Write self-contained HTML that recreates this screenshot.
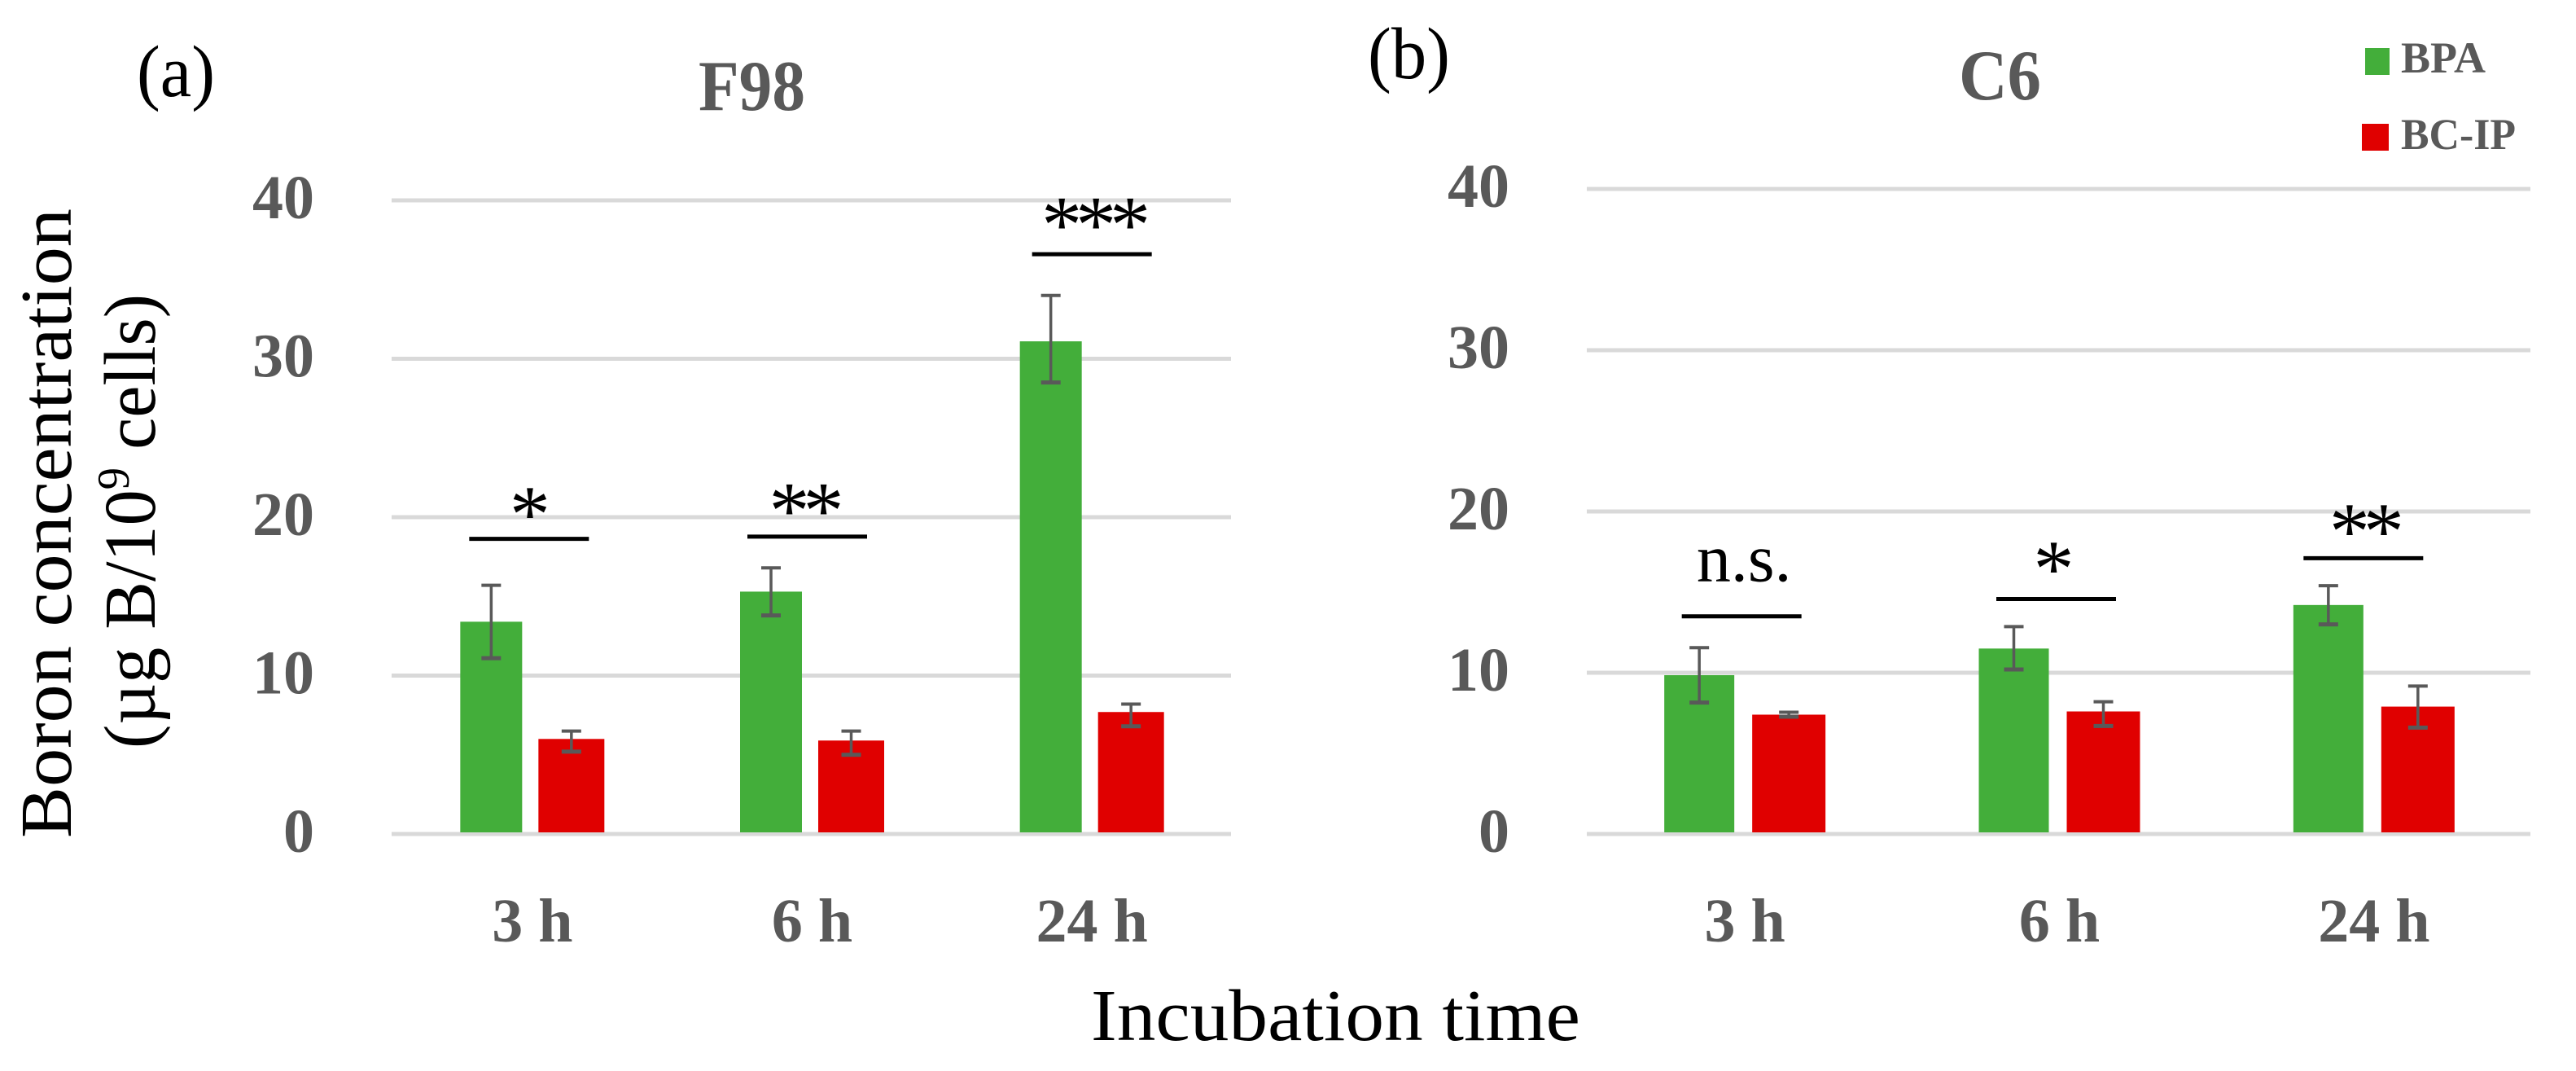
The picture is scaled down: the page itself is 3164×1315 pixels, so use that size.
<!DOCTYPE html>
<html lang="en">
<head>
<meta charset="utf-8">
<title>Boron concentration by incubation time</title>
<style>
html,body{margin:0;padding:0;background:#fff;}
svg{display:block;}
text{font-family:"Liberation Serif","DejaVu Serif",serif;}
.tick{font-weight:bold;fill:#595959;font-size:76px;}
.black{fill:#000;}
</style>
</head>
<body>
<svg id="figure" xmlns="http://www.w3.org/2000/svg" width="3164" height="1315" viewBox="0 0 3164 1315">
  <rect width="3164" height="1315" fill="#fff"/>
  <text class="black" x="168" y="118" font-size="90" textLength="96" lengthAdjust="spacingAndGlyphs">(a)</text>
  <text class="black" x="1680" y="96" font-size="90" textLength="101" lengthAdjust="spacingAndGlyphs">(b)</text>
  <text x="858" y="135" font-size="88" font-weight="bold" fill="#595959" textLength="131" lengthAdjust="spacingAndGlyphs">F98</text>
  <text x="2406" y="122" font-size="88" font-weight="bold" fill="#595959" textLength="101" lengthAdjust="spacingAndGlyphs">C6</text>
  <text class="black" transform="translate(87,1029) rotate(-90)" font-size="90" textLength="773" lengthAdjust="spacingAndGlyphs">Boron concentration</text>
  <text class="black" transform="translate(190,919) rotate(-90)" font-size="90" textLength="558" lengthAdjust="spacingAndGlyphs">(µg B/10<tspan font-size="56" dy="-32">9</tspan><tspan dy="32"> cells)</tspan></text>
  <text class="black" x="1340" y="1277" font-size="90" textLength="601" lengthAdjust="spacingAndGlyphs">Incubation time</text>
  <g>
    <rect x="2905" y="59" width="30" height="33" fill="#43AE3A"/>
    <text x="2949" y="89" font-size="54" font-weight="bold" fill="#595959" textLength="104" lengthAdjust="spacingAndGlyphs">BPA</text>
    <rect x="2901" y="152" width="33" height="33" fill="#E00000"/>
    <text x="2949" y="183" font-size="54" font-weight="bold" fill="#595959" textLength="141" lengthAdjust="spacingAndGlyphs">BC-IP</text>
  </g>
  <g id="panel-a"></g>
  <g id="panel-b"></g>
</svg>
<script>
// ---- chart data ----
const categories = ['3 h', '6 h', '24 h'];
const tickValues = [0, 10, 20, 30, 40];

const f98Bpa = [13.4, 15.3, 31.1];
const f98BpaHigh = [15.7, 16.8, 34.0];
const f98BpaLow = [11.1, 13.8, 28.5];
const f98BcIp = [6.0, 5.9, 7.7];
const f98BcIpHigh = [6.5, 6.5, 8.2];
const f98BcIpLow = [5.2, 5.0, 6.8];
const f98SigLevels = [18.63, 18.77, 36.6];
const f98SigLabels = ['*', '**', '***'];

const c6Bpa = [9.85, 11.5, 14.2];
const c6BpaHigh = [11.55, 12.86, 15.4];
const c6BpaLow = [8.15, 10.2, 13.0];
const c6BcIp = [7.4, 7.6, 7.9];
const c6BcIpHigh = [7.55, 8.2, 9.17];
const c6BcIpLow = [7.27, 6.7, 6.6];
const c6SigLevels = [13.5, 14.57, 17.1];
const c6SigLabels = ['n.s.', '*', '**'];

const NS = 'http://www.w3.org/2000/svg';
function make(tag, parent) {
  const el = document.createElementNS(NS, tag);
  parent.appendChild(el);
  return el;
}
function line(parent, x1, y1, x2, y2, stroke, width) {
  const el = make('line', parent);
  el.setAttribute('x1', x1);
  el.setAttribute('y1', y1);
  el.setAttribute('x2', x2);
  el.setAttribute('y2', y2);
  el.setAttribute('stroke', stroke);
  el.setAttribute('stroke-width', width);
  return el;
}

function drawPanel(root, p) {
  const yScale = v => p.y0 - v * p.pxPerUnit;
  const band = (p.right - p.left) / categories.length;
  const xCenter = i => p.left + band * (i + 0.5) + p.centerShift;
  const groupW = p.greenW + p.gap + p.redW;

  tickValues.forEach(t => {
    const g = line(root, p.left, yScale(t), p.right, yScale(t), '#D9D9D9', 5);
    
    
    const label = make('text', root);
    
    
    label.setAttribute('class', 'tick');
    label.setAttribute('x', p.tickRight);
    label.setAttribute('y', yScale(t) + 22);
    label.setAttribute('text-anchor', 'end');
    label.textContent = t;
  });

  categories.forEach((c, i) => {
    const cx = xCenter(i);
    const gx = cx - groupW / 2;
    const rx = gx + p.greenW + p.gap;
    const base = yScale(0) - 2;

    const gBar = make('rect', root);
    
    
    gBar.setAttribute('x', gx);
    gBar.setAttribute('y', yScale(p.green[i]));
    gBar.setAttribute('width', p.greenW);
    gBar.setAttribute('height', base - yScale(p.green[i]));
    gBar.setAttribute('fill', '#43AE3A');

    const rBar = make('rect', root);
    
    
    rBar.setAttribute('x', rx);
    rBar.setAttribute('y', yScale(p.red[i]));
    rBar.setAttribute('width', p.redW);
    rBar.setAttribute('height', base - yScale(p.red[i]));
    rBar.setAttribute('fill', '#E00000');

    [[gx + p.greenW / 2, p.greenHigh[i], p.greenLow[i], 'bpa'],
     [rx + p.redW / 2, p.redHigh[i], p.redLow[i], 'bc-ip']].forEach(e => {
      const eg = make('g', root);
      
      
      line(eg, e[0], yScale(e[1]), e[0], yScale(e[2]), '#595959', 3.5);
      line(eg, e[0] - 12, yScale(e[1]), e[0] + 12, yScale(e[1]), '#595959', 4);
      line(eg, e[0] - 12, yScale(e[2]), e[0] + 12, yScale(e[2]), '#595959', 5);
    });

    const sy = yScale(p.sig[i]);
    const sx = cx + p.sigShift[i];
    const sl = line(root, sx - 73.5, sy, sx + 73.5, sy, '#000', 5);
    
    

    const isStars = p.sigLabels[i] !== 'n.s.';
    const st = make('text', root);
    
    
    st.setAttribute('class', 'black');
    st.setAttribute('x', sx + p.sigLabelShift[i]);
    st.setAttribute('y', sy + p.sigLabelDy[i]);
    st.setAttribute('text-anchor', 'middle');
    st.setAttribute('font-size', isStars ? 100 : 84);
    st.setAttribute('letter-spacing', isStars ? -8 : 0);
    st.textContent = p.sigLabels[i];

    const cat = make('text', root);
    
    
    cat.setAttribute('class', 'tick');
    cat.setAttribute('x', cx + p.catShift);
    cat.setAttribute('y', 1156);
    cat.setAttribute('text-anchor', 'middle');
    cat.textContent = c;
  });
}

drawPanel(document.getElementById('panel-a'), {
  id: 'f98', left: 481, right: 1512, y0: 1024, pxPerUnit: 19.45, tickRight: 386, centerShift: 1,
  greenW: 76, gap: 20, redW: 81, catShift: 0,
  green: f98Bpa, greenHigh: f98BpaHigh, greenLow: f98BpaLow,
  red: f98BcIp, redHigh: f98BcIpHigh, redLow: f98BcIpLow,
  sig: f98SigLevels, sigLabels: f98SigLabels,
  sigShift: [-4, -6, 0], sigLabelShift: [-3, -5, 1], sigLabelDy: [3, 1, -3]
});
drawPanel(document.getElementById('panel-b'), {
  id: 'c6', left: 1949, right: 3108, y0: 1024, pxPerUnit: 19.8, tickRight: 1854, centerShift: 1,
  greenW: 86, gap: 22, redW: 90, catShift: 0,
  green: c6Bpa, greenHigh: c6BpaHigh, greenLow: c6BpaLow,
  red: c6BcIp, redHigh: c6BcIpHigh, redLow: c6BcIpLow,
  sig: c6SigLevels, sigLabels: c6SigLabels,
  sigShift: [-4, -4, -13], sigLabelShift: [3, -7, 0], sigLabelDy: [-43, -4, 0]
});
</script>
</body>
</html>
